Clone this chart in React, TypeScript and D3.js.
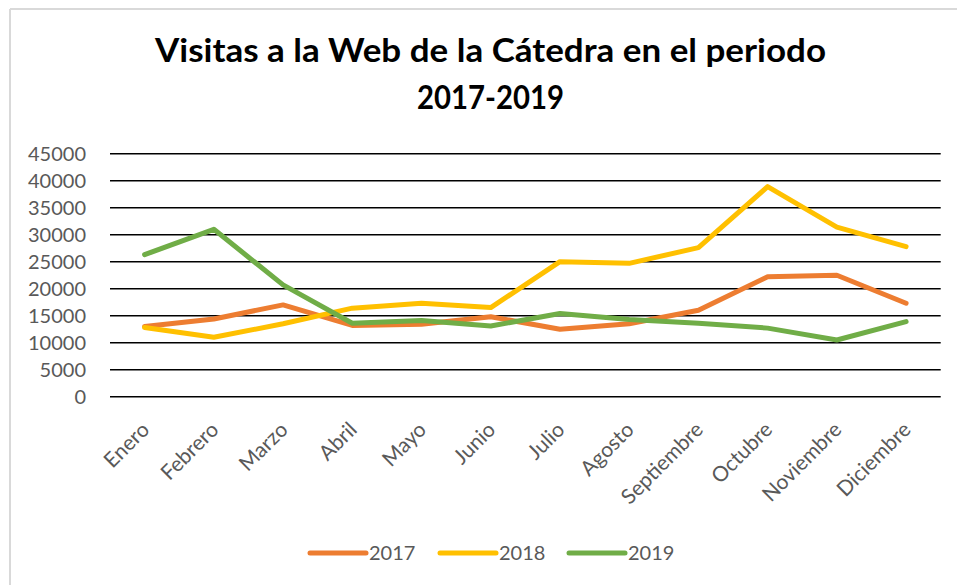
import React from "react";
import * as d3 from "d3";

const months = ["Enero","Febrero","Marzo","Abril","Mayo","Junio","Julio","Agosto","Septiembre","Octubre","Noviembre","Diciembre"];
const v2017 = [13000,14400,17000,13200,13400,14800,12500,13500,16000,22200,22500,17300];
const v2018 = [12800,11000,13500,16400,17300,16500,25000,24700,27600,38900,31400,27800];
const v2019 = [26300,31000,20700,13600,14100,13100,15400,14300,13600,12700,10500,13900];
const seriesNames = ["2017","2018","2019"];
const seriesColors = ["#ED7D31","#FFC000","#70AD47"];
const yTicks = [0,5000,10000,15000,20000,25000,30000,35000,40000,45000];
const titleLines = ["Visitas a la Web de la Cátedra en el periodo","2017-2019"];
const titleWidths = [671, 147];

const W = 957, H = 585;
const FONT = "Lato, 'Open Sans', sans-serif";

export default function App() {
  const x = d3.scalePoint<string>().domain(months).range([110, 940.7]).padding(0.5);
  const y = d3.scaleLinear().domain([0, 45000]).range([396.7, 153.7]);
  const series = [v2017, v2018, v2019];
  const line = d3.line<number>().x((_, i) => x(months[i])!).y(d => y(d));
  const legendX = [310, 440, 569];

  return (
    <svg width={W} height={H} style={{ position: "absolute", left: 0, top: 0 }} fontFamily={FONT}>
      <rect x={0} y={0} width={W} height={H} fill="#fff" />
      <line x1={10} y1={9} x2={W} y2={9} stroke="#d9d9d9" strokeWidth={2} />
      <line x1={10} y1={9} x2={10} y2={H} stroke="#d9d9d9" strokeWidth={2} />
      {titleLines.map((t, i) => (
        <text key={t} x={490.5} y={62 + i * 47} textAnchor="middle" fontSize={32} fontWeight={700} fill="#000"
          textLength={titleWidths[i]} lengthAdjust="spacingAndGlyphs">{t}</text>
      ))}
      {yTicks.map(t => (
        <g key={t}>
          <line x1={110} x2={940.7} y1={y(t)} y2={y(t)} stroke="#000" strokeWidth={1.4} />
          <text x={86} y={y(t)} dy="0.35em" textAnchor="end" fontSize={20} fill="#595959">{t}</text>
        </g>
      ))}
      {months.map(m => (
        <text key={m} transform={`translate(${x(m)! + 6},431) rotate(-45)`} textAnchor="end" fontSize={21} fill="#595959">{m}</text>
      ))}
      {series.map((s, i) => (
        <path key={i} d={line(s)!} fill="none" stroke={seriesColors[i]} strokeWidth={5} strokeLinejoin="round" strokeLinecap="round" />
      ))}
      {seriesNames.map((n, i) => (
        <g key={n}>
          <line x1={legendX[i]} x2={legendX[i] + 56} y1={553} y2={553} stroke={seriesColors[i]} strokeWidth={5} strokeLinecap="round" />
          <text x={legendX[i] + 59} y={553} dy="0.35em" fontSize={20} fill="#595959">{n}</text>
        </g>
      ))}
    </svg>
  );
}
